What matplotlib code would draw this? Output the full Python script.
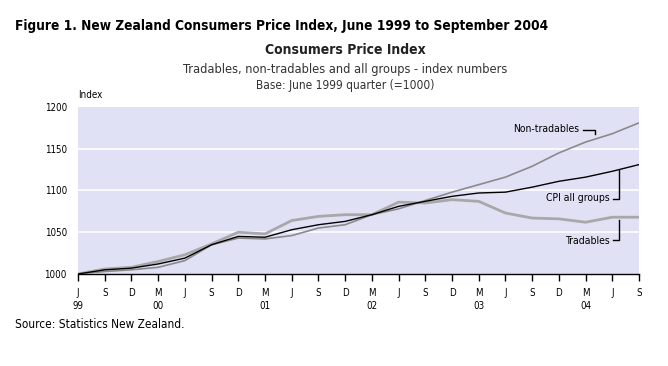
import matplotlib.pyplot as plt

quarters = ['J', 'S', 'D', 'M', 'J', 'S', 'D', 'M', 'J', 'S', 'D', 'M',
            'J', 'S', 'D', 'M', 'J', 'S', 'D', 'M', 'J', 'S']
years = {0: '99', 3: '00', 7: '01', 11: '02', 15: '03', 19: '04'}

tradables = [1000, 1006, 1008, 1015, 1023, 1036, 1050, 1048, 1064, 1069, 1071, 1071,
             1086, 1085, 1089, 1087, 1073, 1067, 1066, 1062, 1068, 1068]
non_tradables = [1000, 1003, 1005, 1008, 1016, 1035, 1043, 1042, 1046, 1055, 1059, 1071,
                 1078, 1088, 1098, 1107, 1116, 1129, 1145, 1158, 1168, 1181]
cpi_all = [1000, 1005, 1007, 1012, 1019, 1035, 1045, 1044, 1053, 1059, 1063, 1071,
           1081, 1087, 1093, 1097, 1098, 1104, 1111, 1116, 1123, 1131]

plt.rcParams['font.family'] = ['DejaVu Sans']
plt.rcParams['font.stretch'] = 'condensed'

fig = plt.figure(figsize=(6.68, 3.66), dpi=100)
ax = fig.add_axes([0.1168, 0.2514, 0.8398, 0.4563])

x = list(range(len(quarters)))
ax.set_facecolor('#e1e1f6')
for v in [1050, 1100, 1150]:
    ax.axhline(v, color='white', lw=1.2, zorder=1)

ax.plot(x, tradables, color='#a8a8a8', lw=2.0, zorder=3)
ax.plot(x, non_tradables, color='#8a8a8a', lw=1.2, zorder=3)
ax.plot(x, cpi_all, color='black', lw=1.0, zorder=4)

ax.set_xlim(0, 21)
ax.set_ylim(1000, 1200)
ax.set_yticks([1000, 1050, 1100, 1150, 1200])
ax.tick_params(axis='y', length=0, labelsize=7, pad=8)
ax.set_xticks(x)
ax.set_xticklabels([q + ('\n' + years[i] if i in years else '')
                    for i, q in enumerate(quarters)], fontsize=7, linespacing=1.35)
ax.tick_params(axis='x', length=5, width=1, direction='out', pad=5)
for s in ['top', 'right', 'left']:
    ax.spines[s].set_visible(False)
ax.spines['bottom'].set_linewidth(1)

# series labels with bracket leaders
lk = dict(color='black', lw=1.0, zorder=5)
ax.text(18.75, 1174, 'Non-tradables', fontsize=7.5, ha='right', va='center')
ax.plot([18.9, 19.36, 19.36], [1173, 1173, 1168], **lk)
ax.text(19.92, 1091, 'CPI all groups', fontsize=7.5, ha='right', va='center')
ax.plot([20.03, 20.26, 20.26], [1090, 1090, 1124], **lk)
ax.text(19.92, 1040, 'Tradables', fontsize=7.5, ha='right', va='center')
ax.plot([20.03, 20.26, 20.26], [1041, 1041, 1065], **lk)

ax.text(0, 1208, 'Index', fontsize=7, ha='left', va='bottom')

fig.text(15 / 668, 1 - 30 / 366, 'Figure 1. New Zealand Consumers Price Index, June 1999 to September 2004',
         fontsize=9.8, fontweight='bold', ha='left', va='baseline')
fig.text(345 / 668, 1 - 50 / 366, 'Consumers Price Index', fontsize=10, fontweight='bold',
         ha='center', va='center', color='#222222')
fig.text(345 / 668, 1 - 69 / 366, 'Tradables, non-tradables and all groups - index numbers',
         fontsize=9.2, ha='center', va='center', color='#333333')
fig.text(345 / 668, 1 - 86 / 366, 'Base: June 1999 quarter (=1000)',
         fontsize=8.6, ha='center', va='center', color='#333333')
fig.text(15 / 668, 1 - 325 / 366, 'Source: Statistics New Zealand.', fontsize=8.5,
         ha='left', va='center')

fig.savefig('out.png', dpi=100)
